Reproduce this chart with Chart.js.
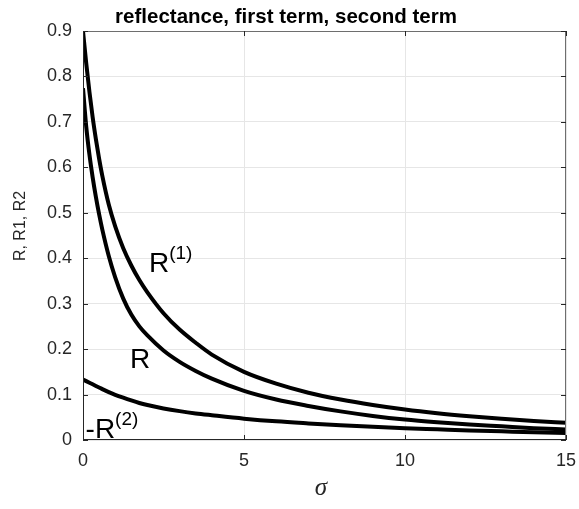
<!DOCTYPE html>
<html>
<head>
<meta charset="utf-8">
<title>reflectance, first term, second term</title>
<script src="https://cdn.jsdelivr.net/npm/chart.js@4.4.1/dist/chart.umd.min.js"></script>
<style>
  html, body { margin: 0; padding: 0; background: #fff; }
  #wrap { width: 579px; height: 509px; }
</style>
</head>
<body>
<div id="wrap"><canvas id="chart" width="579" height="509"></canvas></div>
<script>
// sigma samples and the three curves
const sigma = [0, 0.1, 0.2, 0.3, 0.4, 0.5, 0.6, 0.8, 1, 1.25, 1.5, 1.75, 2, 2.5, 3, 3.5, 4, 5, 6, 7, 8, 9, 10, 11, 12, 13, 14, 15];
const R1 = [0.900, 0.829, 0.766, 0.710, 0.662, 0.619, 0.581, 0.518, 0.470, 0.422, 0.384, 0.352, 0.325, 0.279, 0.243, 0.214, 0.188,
            0.150, 0.124, 0.104, 0.089, 0.077, 0.067, 0.059, 0.0525, 0.047, 0.042, 0.038];
const R = [0.774, 0.690, 0.628, 0.578, 0.535, 0.497, 0.463, 0.405, 0.358, 0.311, 0.276, 0.250, 0.230, 0.197, 0.172, 0.152, 0.135,
           0.108, 0.089, 0.075, 0.063, 0.053, 0.045, 0.039, 0.034, 0.030, 0.026, 0.023];
const minusR2 = [0.133, 0.1295, 0.126, 0.1225, 0.119, 0.1155, 0.112, 0.1055, 0.0995, 0.093, 0.087, 0.0815, 0.077, 0.0695, 0.0635, 0.0585, 0.0545,
                 0.047, 0.041, 0.0365, 0.0325, 0.029, 0.026, 0.0235, 0.021, 0.019, 0.017, 0.0155];

const xTicks = [0, 5, 10, 15];
const xTickLabels = ['0', '5', '10', '15'];
const yTicks = [0, 0.1, 0.2, 0.3, 0.4, 0.5, 0.6, 0.7, 0.8, 0.9];
const yTickLabels = ['0', '0.1', '0.2', '0.3', '0.4', '0.5', '0.6', '0.7', '0.8', '0.9'];

// curve labels, placed in data coordinates (left edge, baseline)
const curveLabels = [
    { x: 2.05, y: 0.369, main: 'R', sup: '(1)' },
    { x: 1.46, y: 0.158, main: 'R', sup: '' },
    { x: 0.08, y: 0.004, main: '-R', sup: '(2)' }
];

const sans = "'Liberation Sans', Arial, Helvetica, sans-serif";
const axisColor = '#262626';

function toPoints(ys) {
    return sigma.map((s, i) => ({ x: s, y: ys[i] }));
}

function curve(label, ys) {
    return {
        label: label,
        data: toPoints(ys),
        borderColor: '#000',
        borderWidth: 4,
        pointRadius: 0,
        fill: false,
        cubicInterpolationMode: 'monotone'
    };
}

// box, inward ticks, titles and curve labels
const decorations = {
    id: 'decorations',
    afterDatasetsDraw(chart) {
        const ctx = chart.ctx;
        const a = chart.chartArea;
        const xs = chart.scales.x;
        const ys = chart.scales.y;
        const tick = 5;

        ctx.save();
        ctx.lineWidth = 1;

        // top / right sides of the box
        ctx.strokeStyle = '#6e6e6e';
        ctx.beginPath();
        ctx.moveTo(a.left, a.top + 0.5);
        ctx.lineTo(a.right - 0.5, a.top + 0.5);
        ctx.lineTo(a.right - 0.5, a.bottom);
        ctx.stroke();

        // left / bottom axes
        ctx.strokeStyle = axisColor;
        ctx.beginPath();
        ctx.moveTo(a.left + 0.5, a.top);
        ctx.lineTo(a.left + 0.5, a.bottom - 0.5);
        ctx.lineTo(a.right, a.bottom - 0.5);
        ctx.stroke();

        ctx.beginPath();
        xTicks.forEach(v => {
            const px = Math.round(xs.getPixelForValue(v)) + 0.5;
            ctx.moveTo(px, a.bottom);
            ctx.lineTo(px, a.bottom - tick);
            ctx.moveTo(px, a.top);
            ctx.lineTo(px, a.top + tick);
        });
        yTicks.forEach(v => {
            const py = Math.round(ys.getPixelForValue(v)) + 0.5;
            ctx.moveTo(a.left, py);
            ctx.lineTo(a.left + tick, py);
            ctx.moveTo(a.right, py);
            ctx.lineTo(a.right - tick, py);
        });
        ctx.stroke();

        // title
        ctx.fillStyle = '#000';
        ctx.textAlign = 'center';
        ctx.textBaseline = 'alphabetic';
        ctx.font = 'bold 20.5px ' + sans;
        ctx.fillText('reflectance, first term, second term', 286, 23);

        // x axis label
        ctx.fillStyle = axisColor;
        ctx.font = "italic 25px 'Liberation Serif', 'Times New Roman', serif";
        ctx.fillText('\u03C3', 321, 495);

        // y axis label
        ctx.save();
        ctx.translate(25, 226);
        ctx.rotate(-Math.PI / 2);
        ctx.font = '16px ' + sans;
        ctx.fillText('R, R1, R2', 0, 0);
        ctx.restore();

        // curve labels with superscripts
        ctx.fillStyle = '#000';
        ctx.textAlign = 'left';
        curveLabels.forEach(l => {
            const px = xs.getPixelForValue(l.x);
            const py = ys.getPixelForValue(l.y);
            ctx.font = '28px ' + sans;
            ctx.fillText(l.main, px, py);
            if (l.sup) {
                const w = ctx.measureText(l.main).width;
                ctx.font = '19px ' + sans;
                ctx.fillText(l.sup, px + w, py - 13);
            }
        });

        ctx.restore();
    }
};

const chart = new Chart(document.getElementById('chart'), {
    type: 'line',
    data: {
        datasets: [
            curve('R1', R1),
            curve('R', R),
            curve('-R2', minusR2)
        ]
    },
    options: {
        responsive: false,
        animation: false,
        layout: { autoPadding: false, padding: { left: 0, right: 13, top: 31, bottom: 0 } },
        plugins: {
            legend: { display: false },
            title: { display: false },
            tooltip: { enabled: false }
        },
        scales: {
            x: {
                type: 'linear',
                min: 0,
                max: 15,
                afterBuildTicks: s => { s.ticks = xTicks.map(v => ({ value: v })); },
                afterFit: s => {
                    s.height = 69;
                    s.paddingLeft = 0;
                    s.paddingRight = 0;
                },
                ticks: {
                    callback: (v, i) => xTickLabels[i],
                    color: axisColor,
                    font: { family: sans, size: 18 },
                    padding: 10,
                    maxRotation: 0
                },
                grid: { color: '#e6e6e6', drawTicks: false },
                border: { display: false }
            },
            y: {
                type: 'linear',
                min: 0,
                max: 0.9,
                afterBuildTicks: s => { s.ticks = yTicks.map(v => ({ value: v })); },
                afterFit: s => {
                    s.width = 83;
                    s.paddingTop = 0;
                    s.paddingBottom = 0;
                },
                ticks: {
                    callback: (v, i) => yTickLabels[i],
                    color: axisColor,
                    font: { family: sans, size: 18 },
                    padding: 11
                },
                grid: { color: '#e6e6e6', drawTicks: false },
                border: { display: false }
            }
        }
    },
    plugins: [decorations]
});
</script>
</body>
</html>
